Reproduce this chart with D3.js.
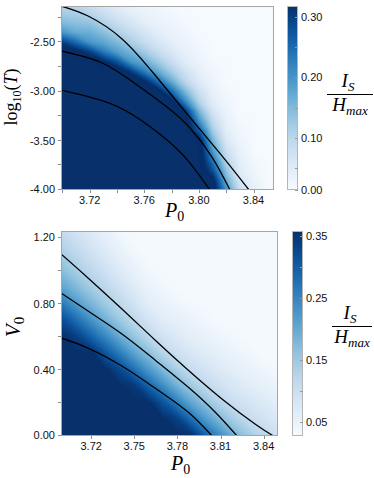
<!DOCTYPE html>
<html><head><meta charset="utf-8">
<script src="https://cdn.jsdelivr.net/npm/d3@7"></script>
<style>html,body{margin:0;padding:0;background:#fff;} svg{display:block;}</style>
</head><body>
<svg id="chart" width="374" height="478"></svg>
<script>
// ===================== DATA =====================
// Top panel grid: columns = P0, rows = log10(T) (top row first)
const topP = [3.70,3.71,3.72,3.73,3.74,3.75,3.76,3.77,3.78,3.79,3.80,3.81,3.82,3.83,3.84,3.85,3.86];
const topLogT = [-2.1,-2.2,-2.3,-2.4,-2.5,-2.6,-2.7,-2.8,-2.9,-3.0,-3.1,-3.2,-3.3,-3.4,-3.5,-3.6,-3.7,-3.8,-3.9,-4.0];
const topValues = [
 [0.100,0.095,0.078,0.058,0.042,0.031,0.028,0.024,0.018,0.018,0.018,0.018,0.018,0.018,0.018,0.018,0.018],
 [0.120,0.115,0.103,0.082,0.062,0.046,0.035,0.028,0.023,0.018,0.018,0.018,0.018,0.018,0.018,0.018,0.018],
 [0.150,0.140,0.135,0.109,0.085,0.065,0.046,0.036,0.028,0.021,0.018,0.018,0.018,0.018,0.018,0.018,0.018],
 [0.200,0.170,0.166,0.143,0.114,0.088,0.066,0.046,0.035,0.026,0.018,0.018,0.018,0.018,0.018,0.018,0.018],
 [0.300,0.250,0.198,0.177,0.152,0.118,0.089,0.064,0.045,0.032,0.022,0.018,0.018,0.018,0.018,0.018,0.018],
 [0.360,0.340,0.300,0.236,0.189,0.159,0.124,0.088,0.061,0.041,0.027,0.018,0.018,0.018,0.018,0.018,0.018],
 [0.360,0.360,0.360,0.331,0.279,0.201,0.169,0.126,0.085,0.050,0.034,0.021,0.018,0.018,0.018,0.018,0.018],
 [0.360,0.360,0.360,0.360,0.360,0.307,0.232,0.175,0.121,0.075,0.043,0.026,0.018,0.018,0.018,0.018,0.018],
 [0.360,0.360,0.360,0.360,0.360,0.360,0.329,0.253,0.173,0.100,0.055,0.032,0.018,0.018,0.018,0.018,0.018],
 [0.360,0.360,0.360,0.360,0.360,0.360,0.360,0.342,0.251,0.153,0.079,0.040,0.022,0.018,0.018,0.018,0.018],
 [0.360,0.360,0.360,0.360,0.360,0.360,0.360,0.360,0.340,0.214,0.107,0.048,0.027,0.018,0.018,0.018,0.018],
 [0.360,0.360,0.360,0.360,0.360,0.360,0.360,0.360,0.360,0.310,0.157,0.068,0.032,0.018,0.018,0.018,0.018],
 [0.360,0.360,0.360,0.360,0.360,0.360,0.360,0.360,0.360,0.360,0.207,0.093,0.039,0.021,0.018,0.018,0.018],
 [0.360,0.360,0.360,0.360,0.360,0.360,0.360,0.360,0.360,0.360,0.273,0.125,0.046,0.026,0.018,0.018,0.018],
 [0.360,0.360,0.360,0.360,0.360,0.360,0.360,0.360,0.360,0.360,0.343,0.160,0.060,0.031,0.018,0.018,0.018],
 [0.360,0.360,0.360,0.360,0.360,0.360,0.360,0.360,0.360,0.360,0.360,0.195,0.080,0.037,0.018,0.018,0.018],
 [0.360,0.360,0.360,0.360,0.360,0.360,0.360,0.360,0.360,0.360,0.360,0.237,0.102,0.043,0.023,0.018,0.018],
 [0.360,0.360,0.360,0.360,0.360,0.360,0.360,0.360,0.360,0.360,0.360,0.280,0.134,0.049,0.028,0.018,0.018],
 [0.360,0.360,0.360,0.360,0.360,0.360,0.360,0.360,0.360,0.360,0.360,0.339,0.167,0.065,0.034,0.018,0.018],
 [0.360,0.360,0.360,0.360,0.360,0.360,0.360,0.360,0.360,0.360,0.360,0.360,0.200,0.082,0.040,0.020,0.018]
];
// Top panel black curves
const topCurveA_P = [3.6990,3.7188,3.7437,3.7678,3.7920,3.8169,3.8367];
const topCurveA_T = [-2.130,-2.232,-2.465,-2.831,-3.238,-3.654,-4.000];
const topCurveB_P = [3.6990,3.7276,3.7517,3.7766,3.7935,3.8096,3.8228];
const topCurveB_T = [-2.587,-2.699,-2.902,-3.156,-3.370,-3.665,-4.000];
const topCurveC_P = [3.6990,3.7276,3.7517,3.7766,3.7935,3.8081];
const topCurveC_T = [-2.984,-3.085,-3.238,-3.492,-3.726,-4.000];
const topXTicks = [3.72,3.76,3.80,3.84];
const topXTickLabels = ["3.72","3.76","3.80","3.84"];
const topXMinor = [3.70,3.74,3.78,3.82];
const topYTicks = [-4.0,-3.5,-3.0,-2.5];
const topYTickLabels = ["-4.00","-3.50","-3.00","-2.50"];
const topYMinor = [-3.75,-3.25,-2.75,-2.25];
const topCbTicks = [0.0,0.1,0.2,0.3];
const topCbTickLabels = ["0.00","0.10","0.20","0.30"];
const topCbMinor = [0.05,0.15,0.25];

// Bottom panel grid: columns = P0, rows = V0 (top row first)
const botP = [3.70,3.71,3.72,3.73,3.74,3.75,3.76,3.77,3.78,3.79,3.80,3.81,3.82,3.83,3.84,3.85];
const botV = [1.3,1.2,1.1,1.0,0.9,0.8,0.7,0.6,0.5,0.4,0.3,0.2,0.1,0.0];
const botValues = [
 [0.096,0.079,0.060,0.045,0.030,0.030,0.030,0.030,0.030,0.030,0.030,0.030,0.030,0.030,0.030,0.030],
 [0.116,0.095,0.077,0.058,0.042,0.030,0.030,0.030,0.030,0.030,0.030,0.030,0.030,0.030,0.030,0.030],
 [0.139,0.117,0.094,0.074,0.055,0.040,0.030,0.030,0.030,0.030,0.030,0.030,0.030,0.030,0.030,0.030],
 [0.168,0.141,0.117,0.092,0.071,0.052,0.037,0.030,0.030,0.030,0.030,0.030,0.030,0.030,0.030,0.030],
 [0.206,0.174,0.143,0.117,0.091,0.068,0.049,0.038,0.030,0.030,0.030,0.030,0.030,0.030,0.030,0.030],
 [0.264,0.219,0.181,0.147,0.117,0.089,0.063,0.051,0.043,0.034,0.030,0.030,0.030,0.030,0.030,0.030],
 [0.321,0.278,0.232,0.188,0.151,0.117,0.086,0.066,0.055,0.047,0.039,0.030,0.030,0.030,0.030,0.030],
 [0.360,0.338,0.293,0.246,0.197,0.157,0.118,0.089,0.073,0.059,0.051,0.043,0.035,0.030,0.030,0.030],
 [0.360,0.360,0.360,0.310,0.261,0.209,0.165,0.125,0.096,0.080,0.066,0.055,0.047,0.039,0.030,0.030],
 [0.360,0.360,0.360,0.360,0.328,0.277,0.224,0.176,0.137,0.104,0.087,0.072,0.059,0.051,0.043,0.035],
 [0.360,0.360,0.360,0.360,0.360,0.347,0.295,0.241,0.189,0.148,0.116,0.093,0.079,0.065,0.055,0.047],
 [0.360,0.360,0.360,0.360,0.360,0.360,0.360,0.315,0.259,0.203,0.161,0.127,0.098,0.085,0.072,0.060],
 [0.360,0.360,0.360,0.360,0.360,0.360,0.360,0.360,0.338,0.277,0.220,0.174,0.138,0.108,0.090,0.077],
 [0.360,0.360,0.360,0.360,0.360,0.360,0.360,0.360,0.360,0.360,0.295,0.239,0.186,0.148,0.119,0.096]
];
const botCurveA_P = [3.6990,3.7178,3.7414,3.7644,3.7874,3.8110,3.8340,3.8479];
const botCurveA_V = [1.101,0.956,0.768,0.581,0.399,0.224,0.073,-0.006];
const botCurveB_P = [3.6990,3.7178,3.7414,3.7644,3.7874,3.8062,3.8215];
const botCurveB_V = [0.865,0.756,0.617,0.460,0.296,0.145,0.000];
const botCurveC_P = [3.6990,3.7178,3.7414,3.7644,3.7874,3.8041];
const botCurveC_V = [0.593,0.532,0.423,0.290,0.145,0.000];
const botXTicks = [3.72,3.75,3.78,3.81,3.84];
const botXTickLabels = ["3.72","3.75","3.78","3.81","3.84"];
const botYTicks = [0.0,0.4,0.8,1.2];
const botYTickLabels = ["0.00","0.40","0.80","1.20"];
const botYMinor = [0.2,0.6,1.0];
const botCbTicks = [0.05,0.15,0.25,0.35];
const botCbTickLabels = ["0.05","0.15","0.25","0.35"];
const botCbMinor = [0.10,0.20,0.30];

// ===================== DRAWING =====================
const svg = d3.select("#chart");
const defs = svg.append("defs");
const SANS = "'Liberation Sans', Arial, sans-serif";
const SERIF = "'Liberation Serif', 'Times New Roman', serif";

function drawPanel(cfg, id) {
  const x = d3.scaleLinear().domain(cfg.xDomain).range([cfg.left, cfg.right]);
  const y = d3.scaleLinear().domain(cfg.yDomain).range([cfg.bottom, cfg.top]);
  const color = d3.scaleSequential(d3.interpolateBlues).domain(cfg.cDomain).clamp(true);

  defs.append("clipPath").attr("id", "clip" + id)
    .append("rect").attr("x", cfg.left).attr("y", cfg.top)
    .attr("width", cfg.right - cfg.left).attr("height", cfg.bottom - cfg.top);

  const n = cfg.gridX.length, m = cfg.gridY.length;
  const flat = [].concat(...cfg.values);
  const gx = d3.scaleLinear().domain([0.5, n - 0.5]).range([cfg.gridX[0], cfg.gridX[n - 1]]);
  const gy = d3.scaleLinear().domain([0.5, m - 0.5]).range([cfg.gridY[0], cfg.gridY[m - 1]]);
  const thresholds = d3.range(0, 0.372, 0.003);
  const contours = d3.contours().size([n, m]).thresholds(thresholds)(flat);
  const proj = d3.geoTransform({ point: function (px, py) { this.stream.point(x(gx(px)), y(gy(py))); } });
  const path = d3.geoPath(proj);
  const g = svg.append("g").attr("clip-path", `url(#clip${id})`);
  g.selectAll("path.band").data(contours).join("path")
    .attr("class", "band").attr("d", path)
    .attr("fill", d => color(d.value + 0.0015));

  // black curves
  const line = d3.line().x(d => x(d[0])).y(d => y(d[1])).curve(d3.curveNatural);
  cfg.curves.forEach(c => {
    g.append("path").attr("d", line(d3.zip(c[0], c[1])))
      .attr("fill", "none").attr("stroke", "#000").attr("stroke-width", 1.3);
  });

  // frame
  svg.append("rect").attr("x", cfg.left + 0.5).attr("y", cfg.top + 0.5)
    .attr("width", cfg.right - cfg.left - 1).attr("height", cfg.bottom - cfg.top - 1)
    .attr("fill", "none").attr("stroke", "#a6a6a6").attr("stroke-width", 1);

  // axis ticks
  const tickCol = "#8c8c8c";
  const xt = cfg.xTicks.concat(cfg.xMinor || []);
  svg.append("g").selectAll("line").data(xt).join("line")
    .attr("x1", d => Math.round(x(d)) + 0.5).attr("x2", d => Math.round(x(d)) + 0.5)
    .attr("y1", cfg.bottom).attr("y2", cfg.bottom + 3)
    .attr("stroke", tickCol).attr("stroke-width", 1);
  const yt = cfg.yTicks.concat(cfg.yMinor || []);
  svg.append("g").selectAll("line").data(yt).join("line")
    .attr("y1", d => Math.round(y(d)) - 0.5).attr("y2", d => Math.round(y(d)) - 0.5)
    .attr("x1", cfg.left - 3).attr("x2", cfg.left)
    .attr("stroke", tickCol).attr("stroke-width", 1);

  svg.append("g").selectAll("text").data(cfg.xTicks).join("text")
    .attr("x", d => x(d)).attr("y", cfg.xLabelY)
    .attr("text-anchor", "middle").attr("font-family", SANS).attr("font-size", 11).attr("fill", "#111")
    .text((d, i) => cfg.xTickLabels[i]);
  svg.append("g").selectAll("text").data(cfg.yTicks).join("text")
    .attr("x", cfg.left - 6).attr("y", d => Math.min(y(d), cfg.bottom - 1)).attr("dy", "0.35em")
    .attr("text-anchor", "end").attr("font-family", SANS).attr("font-size", 11).attr("fill", "#111")
    .text((d, i) => cfg.yTickLabels[i]);

  // colorbar
  const cb = d3.scaleLinear().domain(cfg.cDomain).range([cfg.cbBottom, cfg.top]).clamp(true);
  const gid = "grad" + id;
  const grad = defs.append("linearGradient").attr("id", gid)
    .attr("x1", 0).attr("y1", 1).attr("x2", 0).attr("y2", 0);
  d3.range(0, 1.0001, 0.05).forEach(f => {
    grad.append("stop").attr("offset", f)
      .attr("stop-color", color(cfg.cDomain[0] + f * (cfg.cDomain[1] - cfg.cDomain[0])));
  });
  svg.append("rect").attr("x", cfg.cbLeft + 0.5).attr("y", cfg.top + 0.5)
    .attr("width", cfg.cbWidth - 1).attr("height", cfg.cbBottom - cfg.top - 1)
    .attr("fill", `url(#${gid})`).attr("stroke", "#b5b5b5").attr("stroke-width", 1);
  const cbt = cfg.cbTicks.concat(cfg.cbMinor);
  svg.append("g").selectAll("line").data(cbt).join("line")
    .attr("x1", cfg.cbLeft + cfg.cbWidth - 3).attr("x2", cfg.cbLeft + cfg.cbWidth)
    .attr("y1", d => Math.round(cb(d)) + 0.5).attr("y2", d => Math.round(cb(d)) + 0.5)
    .attr("stroke", "#9a9a9a").attr("stroke-width", 1);
  svg.append("g").selectAll("text").data(cfg.cbTicks).join("text")
    .attr("x", cfg.cbLeft + cfg.cbWidth + 3)
    .attr("y", d => Math.min(Math.max(cb(d), cfg.top + 4), cfg.cbBottom + 1.5)).attr("dy", "0.35em")
    .attr("font-family", SANS).attr("font-size", 11).attr("fill", "#111")
    .text((d, i) => cfg.cbTickLabels[i]);

  // fraction label I_S / H_max
  const f = cfg.frac;
  const num = svg.append("text").attr("x", f.cx - 2).attr("y", f.lineY - 7)
    .attr("text-anchor", "middle").attr("font-family", SERIF).attr("font-size", 19).attr("font-style", "italic");
  num.append("tspan").text("I");
  num.append("tspan").attr("font-size", 13).attr("dy", 4).text("S");
  svg.append("line").attr("x1", f.x1).attr("x2", f.x2).attr("y1", f.lineY + 0.5).attr("y2", f.lineY + 0.5)
    .attr("stroke", "#000").attr("stroke-width", 1);
  const den = svg.append("text").attr("x", f.cx).attr("y", f.lineY + 17)
    .attr("text-anchor", "middle").attr("font-family", SERIF).attr("font-size", 19).attr("font-style", "italic");
  den.append("tspan").text("H");
  den.append("tspan").attr("font-size", 13).attr("dy", 4).text("max");

  // x label P0
  const xl = svg.append("text").attr("x", cfg.xTitleX).attr("y", cfg.xTitleY)
    .attr("font-family", SERIF).attr("font-size", 20);
  xl.append("tspan").attr("font-style", "italic").text("P");
  xl.append("tspan").attr("font-size", 14).attr("dy", 4).text("0");
}

drawPanel({
  left: 61, right: 274, top: 6, bottom: 190, cbLeft: 287, cbWidth: 11, cbBottom: 190,
  xDomain: [3.699, 3.855], yDomain: [-4.0, -2.13], cDomain: [0.014, 0.318],
  gridX: topP, gridY: topLogT, values: topValues,
  curves: [[topCurveA_P, topCurveA_T], [topCurveB_P, topCurveB_T], [topCurveC_P, topCurveC_T]],
  xTicks: topXTicks, xTickLabels: topXTickLabels, xMinor: topXMinor, xLabelY: 204,
  yTicks: topYTicks, yTickLabels: topYTickLabels, yMinor: topYMinor,
  cbTicks: topCbTicks, cbTickLabels: topCbTickLabels, cbMinor: topCbMinor,
  frac: { cx: 350, x1: 327, x2: 373, lineY: 94 },
  xTitleX: 165, xTitleY: 217
}, "T");

drawPanel({
  left: 61, right: 278, top: 231, bottom: 436, cbLeft: 292, cbWidth: 11, cbBottom: 436,
  xDomain: [3.699, 3.85], yDomain: [0, 1.24], cDomain: [0.027, 0.358],
  gridX: botP, gridY: botV, values: botValues,
  curves: [[botCurveA_P, botCurveA_V], [botCurveB_P, botCurveB_V], [botCurveC_P, botCurveC_V]],
  xTicks: botXTicks, xTickLabels: botXTickLabels, xMinor: [], xLabelY: 450,
  yTicks: botYTicks, yTickLabels: botYTickLabels, yMinor: botYMinor,
  cbTicks: botCbTicks, cbTickLabels: botCbTickLabels, cbMinor: botCbMinor,
  frac: { cx: 352, x1: 332, x2: 372, lineY: 326 },
  xTitleX: 171, xTitleY: 470
}, "B");

// y titles
const yl1 = svg.append("text").attr("transform", "translate(16.5,97) rotate(-90)")
  .attr("text-anchor", "middle").attr("font-family", SERIF).attr("font-size", 18);
yl1.append("tspan").text("log");
yl1.append("tspan").attr("font-size", 12).attr("dy", 4).text("10");
yl1.append("tspan").attr("dy", -4).text("(");
yl1.append("tspan").attr("font-style", "italic").text("T");
yl1.append("tspan").text(")");

const yl2 = svg.append("text").attr("transform", "translate(20,327) rotate(-90)")
  .attr("text-anchor", "middle").attr("font-family", SERIF).attr("font-size", 21);
yl2.append("tspan").attr("font-style", "italic").text("V");
yl2.append("tspan").attr("font-size", 15).attr("dy", 4).text("0");
</script>
</body></html>
